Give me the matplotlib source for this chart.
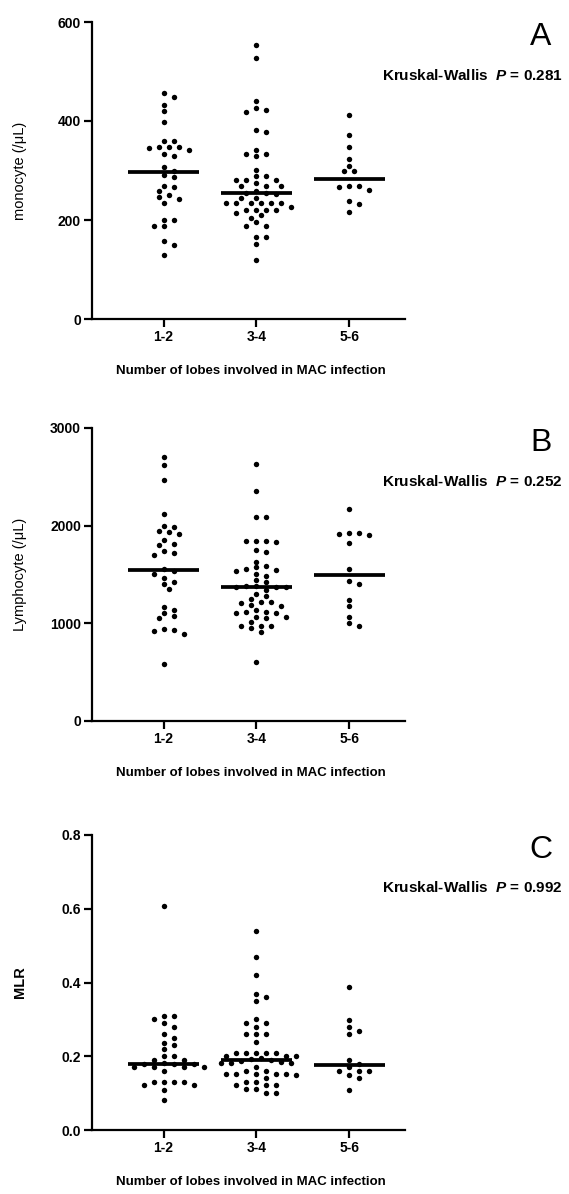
import numpy as np
import matplotlib
matplotlib.use("Agg")
import matplotlib.pyplot as plt

plt.rcParams['font.family'] = ['Liberation Sans', 'DejaVu Sans']
plt.rcParams['mathtext.fontset'] = 'custom'
plt.rcParams['mathtext.rm'] = 'Liberation Sans'
plt.rcParams['mathtext.it'] = 'Liberation Sans:italic'
plt.rcParams['mathtext.bf'] = 'Liberation Sans:bold'
plt.rcParams['mathtext.bfit'] = 'Liberation Sans:italic:bold'

categories = ["1-2", "3-4", "5-6"]

mono_12 = [457, 449, 432, 420, 398, 359, 359, 348, 348, 348, 346, 341, 333, 330, 307, 300,
           290, 286, 269, 267, 259, 250, 247, 242, 234, 201, 199, 188, 188, 158, 150, 129]
mono_34 = [553, 527, 440, 426, 422, 418, 382, 377, 341, 333, 333, 329, 301, 289, 289, 280,
           280, 280, 275, 269, 269, 269, 258, 255, 254, 252, 244, 244, 234, 234, 234, 234,
           234, 234, 227, 220, 220, 220, 220, 215, 210, 205, 195, 188, 188, 166, 166, 152, 119]
mono_56 = [412, 372, 347, 323, 310, 300, 298, 269, 269, 267, 261, 238, 232, 217]
mono_median = [296, 254, 283]

lym_12 = [2700, 2625, 2468, 2120, 1997, 1987, 1946, 1932, 1911, 1853, 1812, 1802, 1744, 1724,
          1696, 1556, 1539, 1508, 1461, 1420, 1399, 1348, 1171, 1137, 1102, 1075, 1051, 942,
          935, 922, 891, 580]
lym_34 = [2632, 2359, 2086, 2086, 1843, 1843, 1843, 1830, 1751, 1734, 1632, 1587, 1572, 1561,
          1551, 1537, 1502, 1488, 1444, 1420, 1385, 1380, 1376, 1372, 1368, 1341, 1300, 1283,
          1246, 1222, 1222, 1212, 1188, 1181, 1137, 1113, 1113, 1102, 1102, 1068, 1068, 1051,
          1017, 976, 976, 976, 949, 915, 608]
lym_56 = [2167, 1929, 1922, 1912, 1905, 1819, 1556, 1437, 1399, 1239, 1178, 1062, 1004, 973]
lym_median = [1550, 1372, 1497]

mlr_12 = [0.608, 0.309, 0.309, 0.301, 0.289, 0.279, 0.259, 0.250, 0.235, 0.230, 0.219, 0.201,
          0.201, 0.191, 0.191, 0.182, 0.180, 0.180, 0.180, 0.170, 0.170, 0.170, 0.170, 0.160,
          0.129, 0.129, 0.129, 0.129, 0.121, 0.121, 0.109, 0.081]
mlr_34 = [0.540, 0.468, 0.419, 0.370, 0.360, 0.350, 0.301, 0.289, 0.289, 0.280, 0.259, 0.259,
          0.259, 0.240, 0.210, 0.210, 0.210, 0.210, 0.210, 0.201, 0.201, 0.201, 0.195, 0.192,
          0.189, 0.186, 0.185, 0.181, 0.181, 0.181, 0.172, 0.159, 0.159, 0.151, 0.151, 0.151,
          0.151, 0.151, 0.148, 0.142, 0.130, 0.130, 0.121, 0.121, 0.121, 0.112, 0.112, 0.101, 0.101]
mlr_56 = [0.389, 0.299, 0.279, 0.269, 0.259, 0.190, 0.179, 0.170, 0.160, 0.160, 0.160, 0.149,
          0.140, 0.109]
mlr_median = [0.180, 0.189, 0.175]

panels = [
    dict(letter="A", groups=[mono_12, mono_34, mono_56], medians=mono_median,
         ylabel="monocyte (/\u03bcL)", ylab_bold=False, yticks=[0, 200, 400, 600],
         ticklabels=["0", "200", "400", "600"], pval="0.281", top=22, bottom=319),
    dict(letter="B", groups=[lym_12, lym_34, lym_56], medians=lym_median,
         ylabel="Lymphocyte (/\u03bcL)", ylab_bold=False, yticks=[0, 1000, 2000, 3000],
         ticklabels=["0", "1000", "2000", "3000"], pval="0.252", top=428, bottom=721),
    dict(letter="C", groups=[mlr_12, mlr_34, mlr_56], medians=mlr_median,
         ylabel="MLR", ylab_bold=True, yticks=[0, 0.2, 0.4, 0.6, 0.8],
         ticklabels=["0.0", "0.2", "0.4", "0.6", "0.8"], pval="0.992", top=835, bottom=1130),
]

W, H = 569, 1194
fig = plt.figure(figsize=(W / 100, H / 100), dpi=100)

LEFT, RIGHT = 92, 405
XMIN, XMAX = -0.77, 2.6


def swarm(ax, values, center, rx=10.0, ry=5.6, step=5.0):
    pts = ax.transData.transform(np.column_stack([np.full(len(values), center), values]))
    ypx = pts[:, 1]
    order = np.argsort(-ypx)
    placed = []
    xs = np.zeros(len(values))
    cands = [0.0]
    for k in range(1, 30):
        cands += [k * step, -k * step]
    for i in order:
        for c in cands:
            ok = True
            for (px, py) in placed:
                if ((c - px) / rx) ** 2 + ((ypx[i] - py) / ry) ** 2 < 1.0:
                    ok = False
                    break
            if ok:
                break
        placed.append((c, ypx[i]))
        xs[i] = c
    x0 = ax.transData.transform((center, 0))[0]
    xdata = ax.transData.inverted().transform(
        np.column_stack([x0 + xs, ypx]))[:, 0]
    return xdata


for p in panels:
    top, bottom = p["top"], p["bottom"]
    ax = fig.add_axes([LEFT / W, 1 - bottom / H, (RIGHT - LEFT) / W, (bottom - top) / H])
    ax.set_xlim(XMIN, XMAX)
    ax.set_ylim(p["yticks"][0], p["yticks"][-1])
    for s in ["top", "right"]:
        ax.spines[s].set_visible(False)
    for s in ["left", "bottom"]:
        ax.spines[s].set_linewidth(1.6)
    ax.set_yticks(p["yticks"])
    ax.set_yticklabels(p["ticklabels"], fontsize=10, fontweight="bold")
    ax.set_xticks(range(len(categories)))
    ax.set_xticklabels(categories, fontsize=10, fontweight="bold")
    ax.tick_params(axis="both", width=1.6, length=6, pad=2)
    ax.patch.set_visible(False)

    for i, vals in enumerate(p["groups"]):
        xs = swarm(ax, vals, i)
        ax.plot(xs, vals, "o", color="black", markersize=3.9, markeredgewidth=0, clip_on=False)
        ax.hlines(p["medians"][i], i - 0.38, i + 0.38, color="black", linewidth=2.7, zorder=3)

    fig.text(20 / W, 1 - (top + bottom) / 2 / H, p["ylabel"], rotation=90, ha="center",
             va="center", fontsize=10.5, fontweight="bold" if p["ylab_bold"] else "normal")
    fig.text(251 / W, 1 - (bottom + 52) / H, "Number of lobes involved in MAC infection",
             ha="center", va="center", fontsize=9.5, fontweight="bold")
    fig.text(563 / W, 1 - (top + 53) / H,
             r"Kruskal-Wallis  $\boldsymbol{P}$ = " + p["pval"],
             ha="right", va="center", fontsize=11, fontweight="bold")
    fig.text(541 / W, 1 - (top + 15) / H, p["letter"], ha="center", va="center", fontsize=23)

fig.savefig("out.png", dpi=100)
